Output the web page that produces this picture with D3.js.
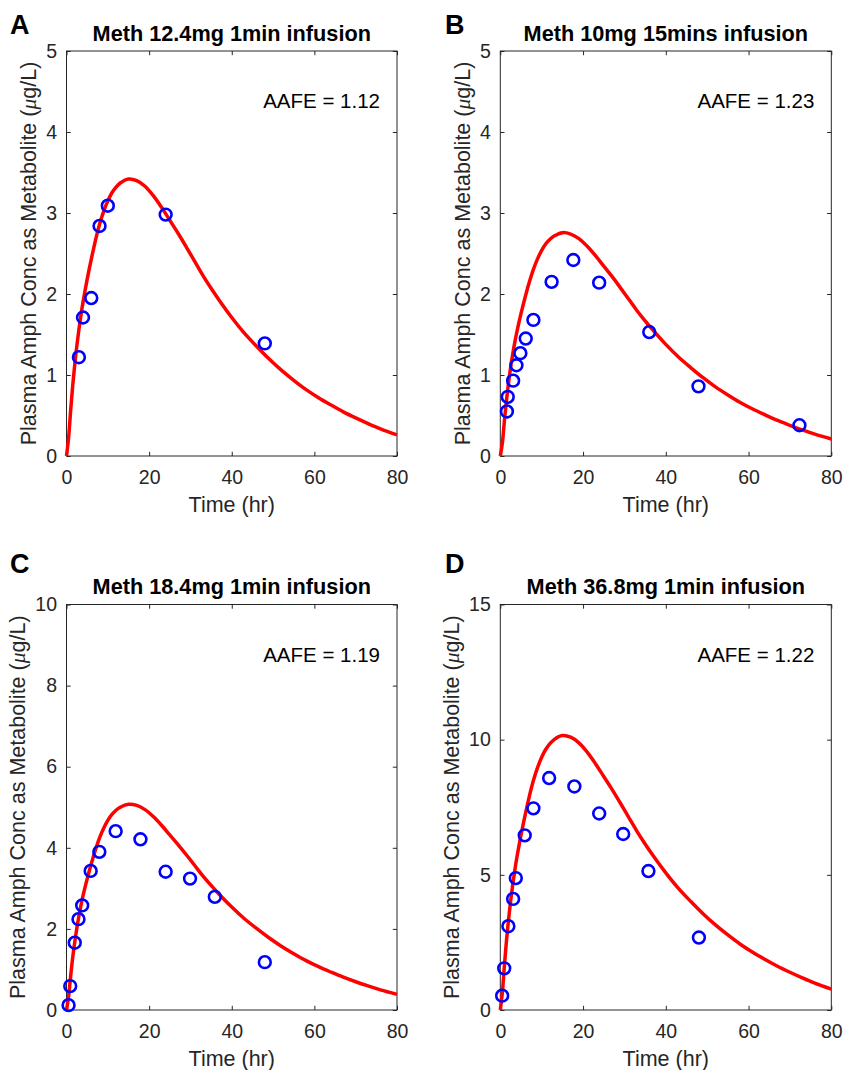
<!DOCTYPE html>
<html><head><meta charset="utf-8">
<script src="https://cdn.jsdelivr.net/npm/d3@7"></script>
<style>
html,body{margin:0;padding:0;background:#fff;}
svg{display:block;font-family:"Liberation Sans",Arial,sans-serif;}
</style></head><body>
<svg id="chart" width="844" height="1070"></svg>
<script>
// ---------------- data ----------------
const panelLetters = ["A", "B", "C", "D"];
const titles = ["Meth 12.4mg 1min infusion", "Meth 10mg 15mins infusion",
                "Meth 18.4mg 1min infusion", "Meth 36.8mg 1min infusion"];
const aafeLabels = ["AAFE = 1.12", "AAFE = 1.23", "AAFE = 1.19", "AAFE = 1.22"];
const xTicks = [0, 20, 40, 60, 80];
const yTicksA = [0, 1, 2, 3, 4, 5];
const yTicksB = [0, 1, 2, 3, 4, 5];
const yTicksC = [0, 2, 4, 6, 8, 10];
const yTicksD = [0, 5, 10, 15];
const xLabel = "Time (hr)";

// model prediction (red line)
const modelTime = [0, 0.5, 1, 1.5, 2, 2.5, 3, 3.5, 4, 5, 6, 7, 8, 9, 10, 11, 12, 13, 15, 17, 19, 21, 23, 25, 27, 29, 31, 33, 35, 37, 40, 43, 46, 49, 52, 55, 58, 61, 64, 67, 70, 73, 76, 80];
const modelA = [0, 0.220, 0.560, 0.870, 1.130, 1.360, 1.560, 1.740, 1.900, 2.180, 2.430, 2.660, 2.860, 3.020, 3.150, 3.250, 3.320, 3.370, 3.420, 3.400, 3.330, 3.214, 3.070, 2.910, 2.750, 2.580, 2.405, 2.230, 2.070, 1.920, 1.710, 1.520, 1.355, 1.200, 1.060, 0.935, 0.820, 0.720, 0.630, 0.545, 0.470, 0.400, 0.335, 0.260];
const modelB = [0, 0.160, 0.440, 0.690, 0.905, 1.096, 1.257, 1.402, 1.531, 1.757, 1.959, 2.144, 2.305, 2.434, 2.539, 2.620, 2.676, 2.716, 2.757, 2.740, 2.684, 2.590, 2.474, 2.345, 2.217, 2.079, 1.938, 1.797, 1.668, 1.548, 1.378, 1.225, 1.092, 0.967, 0.854, 0.754, 0.661, 0.580, 0.508, 0.439, 0.379, 0.322, 0.270, 0.210];
const modelC = [0, 0.326, 0.831, 1.291, 1.677, 2.018, 2.315, 2.582, 2.820, 3.235, 3.606, 3.947, 4.244, 4.482, 4.675, 4.823, 4.927, 5.001, 5.075, 5.046, 4.942, 4.770, 4.556, 4.318, 4.081, 3.829, 3.569, 3.309, 3.072, 2.849, 2.538, 2.256, 2.011, 1.781, 1.573, 1.388, 1.217, 1.068, 0.935, 0.809, 0.697, 0.594, 0.497, 0.386];
const modelD = [0, 0.653, 1.662, 2.582, 3.354, 4.036, 4.630, 5.164, 5.639, 6.470, 7.212, 7.895, 8.488, 8.963, 9.349, 9.646, 9.854, 10.002, 10.151, 10.091, 9.883, 9.539, 9.112, 8.637, 8.162, 7.657, 7.138, 6.619, 6.144, 5.699, 5.075, 4.511, 4.022, 3.562, 3.146, 2.775, 2.434, 2.137, 1.870, 1.618, 1.395, 1.187, 0.994, 0.772];

// observed data (blue circles)
const obsTimeA = [3, 4, 6, 8, 10, 24, 48];
const obsConcA = [1.22, 1.71, 1.95, 2.84, 3.09, 2.98, 1.39];
const obsTimeB = [1.6, 1.8, 3.1, 3.9, 4.85, 6.15, 8, 12.4, 17.65, 23.9, 36, 47.9, 72.3];
const obsConcB = [0.55, 0.73, 0.93, 1.12, 1.27, 1.45, 1.68, 2.15, 2.42, 2.14, 1.53, 0.86, 0.38];
const obsTimeC = [0.5, 0.9, 2, 2.9, 3.8, 5.85, 7.95, 11.9, 17.9, 24, 29.9, 35.9, 48];
const obsConcC = [0.12, 0.59, 1.66, 2.24, 2.58, 3.43, 3.90, 4.41, 4.21, 3.41, 3.24, 2.79, 1.18];
const obsTimeD = [0.45, 0.95, 1.95, 3.1, 3.75, 5.9, 8, 11.8, 17.9, 23.9, 29.7, 35.8, 48];
const obsConcD = [0.53, 1.54, 3.10, 4.11, 4.88, 6.46, 7.46, 8.58, 8.27, 7.27, 6.51, 5.14, 2.68];

// ---------------- layout ----------------
const boxes = [
  {l: 66.5, r: 397, t: 51, b: 456, letterX: 10, letterY: 34.3, ylabGap: 30.5},
  {l: 500.3, r: 831.3, t: 51, b: 456, letterX: 445, letterY: 34.3, ylabGap: 30.5},
  {l: 66.5, r: 397, t: 604.5, b: 1010, letterX: 10, letterY: 573, ylabGap: 41.3},
  {l: 500.3, r: 831.3, t: 604.5, b: 1010, letterX: 445, letterY: 573, ylabGap: 41.3}
];
const yTicksAll = [yTicksA, yTicksB, yTicksC, yTicksD];
const modelAll = [modelA, modelB, modelC, modelD];
const obsT = [obsTimeA, obsTimeB, obsTimeC, obsTimeD];
const obsC = [obsConcA, obsConcB, obsConcC, obsConcD];

const AX = "#262626";
const TICK = 4.2;
const svg = d3.select("#chart");

panelLetters.forEach((letter, i) => {
  const bx = boxes[i];
  const yt = yTicksAll[i];
  const x = d3.scaleLinear().domain([0, 80]).range([bx.l, bx.r]);
  const y = d3.scaleLinear().domain([0, d3.max(yt)]).range([bx.b, bx.t]);
  const g = svg.append("g");

  // box
  g.append("rect").attr("x", bx.l).attr("y", bx.t)
    .attr("width", bx.r - bx.l).attr("height", bx.b - bx.t)
    .attr("fill", "none").attr("stroke", AX).attr("stroke-width", 1);

  const styleAxis = sel => {
    sel.attr("font-size", 19.5).attr("font-family", '"Liberation Sans",Arial,sans-serif')
      .attr("color", AX);
    sel.select(".domain").remove();
  };
  g.append("g").attr("transform", `translate(0,${bx.b})`)
    .call(d3.axisBottom(x).tickValues(xTicks).tickSizeInner(-TICK).tickSizeOuter(0).tickPadding(14).tickFormat(d3.format("d")))
    .call(styleAxis);
  g.append("g").attr("transform", `translate(0,${bx.t})`)
    .call(d3.axisTop(x).tickValues(xTicks).tickSizeInner(-TICK).tickSizeOuter(0).tickFormat(""))
    .call(styleAxis);
  g.append("g").attr("transform", `translate(${bx.l},0)`)
    .call(d3.axisLeft(y).tickValues(yt).tickSizeInner(-TICK).tickSizeOuter(0).tickPadding(9.5).tickFormat(d3.format("d")))
    .call(styleAxis);
  g.append("g").attr("transform", `translate(${bx.r},0)`)
    .call(d3.axisRight(y).tickValues(yt).tickSizeInner(-TICK).tickSizeOuter(0).tickFormat(""))
    .call(styleAxis);

  // model line
  const pts = modelTime.map((t, k) => [t, modelAll[i][k]]);
  const line = d3.line().x(d => x(d[0])).y(d => y(d[1])).curve(d3.curveCatmullRom.alpha(0.5));
  g.append("path").attr("d", line(pts)).attr("fill", "none")
    .attr("stroke", "#ff0000").attr("stroke-width", 3.5).attr("stroke-linejoin", "round");

  // observations
  g.selectAll("circle.obs").data(obsT[i].map((t, k) => [t, obsC[i][k]])).enter()
    .append("circle").attr("class", "obs")
    .attr("cx", d => x(d[0])).attr("cy", d => y(d[1])).attr("r", 5.9)
    .attr("fill", "none").attr("stroke", "#0000ff").attr("stroke-width", 2.6);

  // title
  g.append("text").attr("x", (bx.l + bx.r) / 2).attr("y", bx.t - 10.3)
    .attr("text-anchor", "middle").attr("font-weight", "bold").attr("font-size", 21.7)
    .attr("fill", "#000").text(titles[i]);

  // AAFE annotation
  g.append("text").attr("x", bx.r - 17).attr("y", bx.t + 57.3)
    .attr("text-anchor", "end").attr("font-size", 20.5).attr("fill", "#000")
    .text(aafeLabels[i]);

  // x label
  g.append("text").attr("x", (bx.l + bx.r) / 2).attr("y", bx.b + 55.7)
    .attr("text-anchor", "middle").attr("font-size", 21.5).attr("fill", AX)
    .text(xLabel);

  // y label
  const yl = g.append("text")
    .attr("transform", `translate(${bx.l - bx.ylabGap},${(bx.t + bx.b) / 2}) rotate(-90)`)
    .attr("text-anchor", "middle").attr("font-size", 21.5).attr("fill", AX);
  yl.append("tspan").text("Plasma Amph Conc as Metabolite (");
  yl.append("tspan").attr("font-style", "italic").attr("font-family", '"Liberation Serif","DejaVu Serif",serif').text("\u03BC");
  yl.append("tspan").text("g/L)");

  // panel letter
  svg.append("text").attr("x", bx.letterX).attr("y", bx.letterY)
    .attr("font-weight", "bold").attr("font-size", 27).attr("fill", "#000").text(letter);
});
</script>
</body></html>
